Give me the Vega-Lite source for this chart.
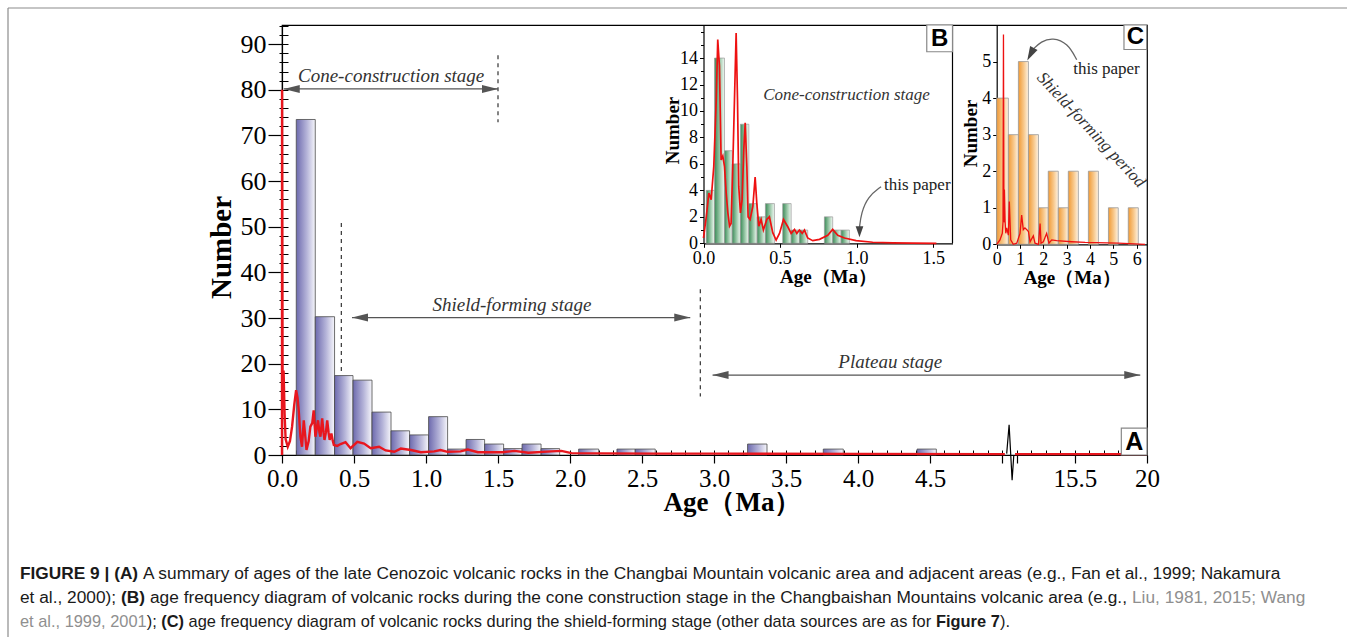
{
"$schema": "https://vega.github.io/schema/vega-lite/v6.json",
"width": 865,
"height": 430,
"autosize": {"type": "none"},
"padding": {"left": 282, "top": 25, "right": 208, "bottom": 182},
"background": "#ffffff",
"config": {
  "view": {"stroke": "#000000", "strokeWidth": 1.2},
  "axis": {"labelFont": "Liberation Serif", "titleFont": "Liberation Serif", "labelColor": "#000000", "titleColor": "#000000", "domainColor": "#000000", "tickColor": "#000000", "grid": false, "labelOverlap": false, "labelFlush": false}
},
"datasets": {
  "main_bars": [
    {"lo": 0.099, "hi": 0.231, "n": 73.5}, {"lo": 0.231, "hi": 0.365, "n": 30.3}, {"lo": 0.365, "hi": 0.493, "n": 17.4},
    {"lo": 0.493, "hi": 0.625, "n": 16.4}, {"lo": 0.625, "hi": 0.757, "n": 9.4}, {"lo": 0.757, "hi": 0.886, "n": 5.3},
    {"lo": 0.886, "hi": 1.018, "n": 4.4}, {"lo": 1.018, "hi": 1.15, "n": 8.4}, {"lo": 1.15, "hi": 1.278, "n": 1.3},
    {"lo": 1.278, "hi": 1.407, "n": 3.4}, {"lo": 1.407, "hi": 1.539, "n": 2.4}, {"lo": 1.539, "hi": 1.667, "n": 1.4},
    {"lo": 1.667, "hi": 1.799, "n": 2.4}, {"lo": 1.799, "hi": 1.928, "n": 1.4}, {"lo": 2.06, "hi": 2.199, "n": 1.3},
    {"lo": 2.326, "hi": 2.453, "n": 1.3}, {"lo": 2.453, "hi": 2.592, "n": 1.3}, {"lo": 3.233, "hi": 3.368, "n": 2.4},
    {"lo": 3.759, "hi": 3.898, "n": 1.3}, {"lo": 4.41, "hi": 4.544, "n": 1.3}
  ],
  "main_curve": [
    {"seg": "a", "age": 0, "n": 0}, {"seg": "a", "age": 0.0005, "n": 80}, {"seg": "a", "age": 0.004, "n": 12.5},
    {"seg": "a", "age": 0.011, "n": 18.5}, {"seg": "a", "age": 0.018, "n": 9}, {"seg": "a", "age": 0.025, "n": 3.5},
    {"seg": "a", "age": 0.04, "n": 1.8}, {"seg": "a", "age": 0.055, "n": 3}, {"seg": "a", "age": 0.07, "n": 6.2},
    {"seg": "a", "age": 0.085, "n": 11}, {"seg": "a", "age": 0.098, "n": 14.2}, {"seg": "a", "age": 0.108, "n": 12.5},
    {"seg": "a", "age": 0.116, "n": 9.8}, {"seg": "a", "age": 0.128, "n": 4}, {"seg": "a", "age": 0.139, "n": 1.8},
    {"seg": "a", "age": 0.151, "n": 7.6}, {"seg": "a", "age": 0.162, "n": 4}, {"seg": "a", "age": 0.17, "n": 1.1},
    {"seg": "a", "age": 0.185, "n": 3}, {"seg": "a", "age": 0.197, "n": 6.2}, {"seg": "a", "age": 0.21, "n": 7},
    {"seg": "a", "age": 0.22, "n": 9.8}, {"seg": "a", "age": 0.232, "n": 4}, {"seg": "a", "age": 0.25, "n": 7.6},
    {"seg": "a", "age": 0.26, "n": 5}, {"seg": "a", "age": 0.267, "n": 4}, {"seg": "a", "age": 0.279, "n": 8},
    {"seg": "a", "age": 0.288, "n": 5}, {"seg": "a", "age": 0.295, "n": 3.3}, {"seg": "a", "age": 0.305, "n": 5},
    {"seg": "a", "age": 0.314, "n": 7.6}, {"seg": "a", "age": 0.323, "n": 5}, {"seg": "a", "age": 0.331, "n": 3.3},
    {"seg": "a", "age": 0.343, "n": 4.7}, {"seg": "a", "age": 0.352, "n": 3.2}, {"seg": "a", "age": 0.36, "n": 2.2},
    {"seg": "a", "age": 0.384, "n": 2}, {"seg": "a", "age": 0.407, "n": 2.4}, {"seg": "a", "age": 0.441, "n": 2.8},
    {"seg": "a", "age": 0.476, "n": 1.5}, {"seg": "a", "age": 0.523, "n": 2.9}, {"seg": "a", "age": 0.57, "n": 2.5},
    {"seg": "a", "age": 0.616, "n": 1.5}, {"seg": "a", "age": 0.674, "n": 1.8}, {"seg": "a", "age": 0.72, "n": 1},
    {"seg": "a", "age": 0.78, "n": 0.7}, {"seg": "a", "age": 0.825, "n": 1.4}, {"seg": "a", "age": 0.895, "n": 1.1},
    {"seg": "a", "age": 0.964, "n": 0.6}, {"seg": "a", "age": 1.057, "n": 0.8}, {"seg": "a", "age": 1.1, "n": 1.1},
    {"seg": "a", "age": 1.15, "n": 0.7}, {"seg": "a", "age": 1.24, "n": 0.8}, {"seg": "a", "age": 1.29, "n": 1.2},
    {"seg": "a", "age": 1.36, "n": 0.6}, {"seg": "a", "age": 1.53, "n": 0.6}, {"seg": "a", "age": 1.615, "n": 0.9},
    {"seg": "a", "age": 1.71, "n": 0.5}, {"seg": "a", "age": 1.87, "n": 0.8}, {"seg": "a", "age": 1.94, "n": 0.9},
    {"seg": "a", "age": 2.01, "n": 0.4}, {"seg": "a", "age": 2.22, "n": 0.35}, {"seg": "a", "age": 2.63, "n": 0.3},
    {"seg": "a", "age": 3.0, "n": 0.3}, {"seg": "a", "age": 4.0, "n": 0.25}, {"seg": "a", "age": 5.0, "n": 0.2},
    {"seg": "a", "age": 6.3, "n": 0.2},
    {"seg": "b", "age": 11.0, "n": 0.2}, {"seg": "b", "age": 20, "n": 0.2}
  ],
  "main_dash": [
    {"age": 1.5, "n0": 87.6, "n1": 72.9}, {"age": 0.412, "n0": 50.8, "n1": 17.9}, {"age": 2.905, "n0": 36.3, "n1": 12.8}
  ],
  "main_arrows": [
    {"a0": 0.012, "a1": 1.5, "n": 80.2}, {"a0": 0.486, "a1": 2.835, "n": 30.1}, {"a0": 2.99, "a1": 19.58, "n": 17.5}
  ],
  "main_labels": [
    {"age": 0.758, "n": 81.8, "label": "Cone-construction stage"},
    {"age": 1.597, "n": 31.6, "label": "Shield-forming stage"},
    {"age": 4.224, "n": 19.0, "label": "Plateau stage"}
  ],
  "main_break": [
    {"age": 7.16, "n": 0.3}, {"age": 8.27, "n": 6.6}, {"age": 9.65, "n": -5.5}, {"age": 10.43, "n": 0}
  ],
  "main_tag": [{"x0": 18.4, "x1": 20, "y0": 0, "y1": 5.9, "xc": 19.2, "yc": 2.9, "tag": "A"}],
  "b_bars": [
    {"lo": 0.018, "hi": 0.072, "n": 4}, {"lo": 0.072, "hi": 0.137, "n": 14}, {"lo": 0.137, "hi": 0.187, "n": 7},
    {"lo": 0.187, "hi": 0.241, "n": 6}, {"lo": 0.241, "hi": 0.296, "n": 9}, {"lo": 0.296, "hi": 0.35, "n": 3},
    {"lo": 0.35, "hi": 0.404, "n": 2}, {"lo": 0.404, "hi": 0.463, "n": 3}, {"lo": 0.517, "hi": 0.572, "n": 3},
    {"lo": 0.572, "hi": 0.626, "n": 1}, {"lo": 0.626, "hi": 0.68, "n": 1}, {"lo": 0.789, "hi": 0.843, "n": 2},
    {"lo": 0.843, "hi": 0.898, "n": 1}, {"lo": 0.898, "hi": 0.952, "n": 1}
  ],
  "b_curve": [
    {"age": 0, "n": 0.4}, {"age": 0.018, "n": 2.0}, {"age": 0.035, "n": 3.8}, {"age": 0.05, "n": 3.3}, {"age": 0.067, "n": 5.8},
    {"age": 0.083, "n": 10.8}, {"age": 0.093, "n": 15.4}, {"age": 0.104, "n": 13.4}, {"age": 0.115, "n": 6.3}, {"age": 0.126, "n": 6.6},
    {"age": 0.137, "n": 5.8}, {"age": 0.148, "n": 3.8}, {"age": 0.159, "n": 2.3}, {"age": 0.17, "n": 1.3}, {"age": 0.18, "n": 1.5},
    {"age": 0.191, "n": 5.8}, {"age": 0.202, "n": 10.8}, {"age": 0.213, "n": 15.9}, {"age": 0.222, "n": 10.8}, {"age": 0.23, "n": 4.3},
    {"age": 0.241, "n": 2.3}, {"age": 0.252, "n": 3.3}, {"age": 0.263, "n": 7.1}, {"age": 0.272, "n": 9.1}, {"age": 0.283, "n": 5.8},
    {"age": 0.291, "n": 2.0}, {"age": 0.304, "n": 1.8}, {"age": 0.322, "n": 2.8}, {"age": 0.337, "n": 5.0}, {"age": 0.348, "n": 3.0},
    {"age": 0.361, "n": 1.3}, {"age": 0.376, "n": 1.8}, {"age": 0.391, "n": 1.0}, {"age": 0.413, "n": 1.8}, {"age": 0.43, "n": 2.0},
    {"age": 0.452, "n": 0.8}, {"age": 0.474, "n": 0.25}, {"age": 0.496, "n": 0.75}, {"age": 0.522, "n": 1.8}, {"age": 0.55, "n": 1.25},
    {"age": 0.572, "n": 0.75}, {"age": 0.594, "n": 1.05}, {"age": 0.609, "n": 0.75}, {"age": 0.626, "n": 1.0}, {"age": 0.644, "n": 0.75},
    {"age": 0.659, "n": 1.0}, {"age": 0.68, "n": 0.4}, {"age": 0.713, "n": 0.2}, {"age": 0.757, "n": 0.3}, {"age": 0.811, "n": 0.6},
    {"age": 0.843, "n": 1.05}, {"age": 0.876, "n": 0.6}, {"age": 0.92, "n": 0.4}, {"age": 0.996, "n": 0.2}, {"age": 1.104, "n": 0.08},
    {"age": 1.235, "n": 0.03}, {"age": 1.365, "n": 0.01}, {"age": 1.52, "n": 0}
  ],
  "b_frame": [{"age": 1.625, "n0": 0, "n1": 16.5}],
  "b_labels": [{"age": 0.933, "n": 10.84, "label": "Cone-construction stage"}],
  "b_note": [{"age": 1.178, "n": 4.03, "label": "this paper"}],
  "b_arrow": [{"age": 1.159, "n": 4.28}, {"age": 1.072, "n": 3.52}, {"age": 1.029, "n": 2.27}, {"age": 1.018, "n": 1.2}],
  "b_head": [{"age": 1.018, "n": 0.45}],
  "b_tag": [{"x0": 1.457, "x1": 1.625, "y0": 14.48, "y1": 16.5, "xc": 1.541, "yc": 15.45, "tag": "B"}],
  "c_bars": [
    {"lo": 0, "hi": 0.5, "n": 4}, {"lo": 0.5, "hi": 0.93, "n": 3}, {"lo": 0.93, "hi": 1.36, "n": 5}, {"lo": 1.36, "hi": 1.79, "n": 3},
    {"lo": 1.79, "hi": 2.21, "n": 1}, {"lo": 2.21, "hi": 2.64, "n": 2}, {"lo": 2.64, "hi": 3.07, "n": 1}, {"lo": 3.07, "hi": 3.5, "n": 2},
    {"lo": 3.93, "hi": 4.36, "n": 2}, {"lo": 4.79, "hi": 5.21, "n": 1}, {"lo": 5.64, "hi": 6.07, "n": 1}
  ],
  "c_curve": [
    {"age": 0, "n": 0}, {"age": 0.14, "n": 0.12}, {"age": 0.24, "n": 0.3}, {"age": 0.27, "n": 0.6}, {"age": 0.29, "n": 5.74},
    {"age": 0.31, "n": 0.6}, {"age": 0.33, "n": 1.5}, {"age": 0.36, "n": 0.62}, {"age": 0.39, "n": 0.3}, {"age": 0.43, "n": 0.45},
    {"age": 0.5, "n": 0.25}, {"age": 0.54, "n": 1.17}, {"age": 0.6, "n": 0.12}, {"age": 0.71, "n": 0.0}, {"age": 0.86, "n": 0.03},
    {"age": 1.0, "n": 0.3}, {"age": 1.07, "n": 0.8}, {"age": 1.14, "n": 0.4}, {"age": 1.21, "n": 0.45}, {"age": 1.29, "n": 0.4},
    {"age": 1.36, "n": 0.35}, {"age": 1.43, "n": 0.07}, {"age": 1.57, "n": 0.23}, {"age": 1.64, "n": 0.03}, {"age": 1.79, "n": 0.0},
    {"age": 1.86, "n": 0.57}, {"age": 1.9, "n": 0.03}, {"age": 2.0, "n": 0.07}, {"age": 2.14, "n": 0.3}, {"age": 2.24, "n": 0.03},
    {"age": 2.36, "n": 0.12}, {"age": 2.57, "n": 0.1}, {"age": 3.21, "n": 0.07}, {"age": 3.79, "n": 0.05}, {"age": 5.21, "n": 0.03},
    {"age": 6.36, "n": 0}
  ],
  "c_labels": [{"age": 4.05, "n": 3.13, "label": "Shield-forming period"}],
  "c_note": [{"age": 3.28, "n": 4.66, "label": "this paper"}],
  "c_arrow": [{"age": 3.43, "n": 5.05}, {"age": 3.05, "n": 5.5}, {"age": 2.4, "n": 5.66}, {"age": 1.9, "n": 5.55}, {"age": 1.55, "n": 5.33}],
  "c_head": [{"age": 1.31, "n": 5.03}],
  "c_tag": [{"x0": 5.456, "x1": 6.43, "y0": 5.33, "y1": 6.0, "xc": 5.943, "yc": 5.665, "tag": "C"}]
},
"resolve": {"scale": {"x": "independent", "y": "independent"}},
"layer": [
  {
    "resolve": {"axis": {"x": "independent", "y": "independent"}},
    "layer": [
      {
        "data": {"name": "main_bars"},
        "mark": {"type": "bar", "fill": {"gradient": "linear", "x1": 0, "y1": 0, "x2": 1, "y2": 0, "stops": [{"offset": 0, "color": "#6d6aae"}, {"offset": 0.55, "color": "#b4b3d8"}, {"offset": 1, "color": "#f6f6fb"}]}, "stroke": "#4a4a4a", "strokeWidth": 0.8},
        "encoding": {
          "x": {"field": "lo", "type": "quantitative", "scale": {"type": "linear", "domain": [0, 5, 11.9, 20], "range": [0, 720, 735, 865], "nice": false, "zero": false},
            "axis": {"orient": "bottom", "values": [0, 0.5, 1, 1.5, 2, 2.5, 3, 3.5, 4, 4.5, 5, 11.9, 15.5, 20], "labelExpr": "datum.value == 5 || datum.value == 11.9 ? '' : (datum.value == 20 ? '20' : format(datum.value, '.1f'))", "labelFontSize": 25, "labelPadding": 3, "tickSize": 8, "tickWidth": 1.2, "domainWidth": 1.2, "title": "Age（Ma）", "titleFontSize": 27, "titleFontWeight": "bold", "titleBaseline": "alphabetic", "titleY": 55, "titleX": 450}},
          "x2": {"field": "hi"},
          "y": {"field": "n", "type": "quantitative", "scale": {"domain": [0, 94.2], "nice": false},
            "axis": {"orient": "left", "values": [0, 10, 20, 30, 40, 50, 60, 70, 80, 90], "labelFontSize": 26, "labelPadding": 2, "tickSize": 14, "tickWidth": 1.2, "domainWidth": 1.2, "title": "Number", "titleFontSize": 29, "titleFontWeight": "bold", "titleAngle": 270, "titleBaseline": "alphabetic", "titleAlign": "center", "titleX": -52, "titleY": 222}},
          "y2": {"datum": 0}
        }
      },
      {
        "data": {"name": "main_curve"},
        "mark": {"type": "line", "color": "#e8161e", "strokeWidth": 2.4},
        "encoding": {
          "x": {"field": "age", "type": "quantitative", "scale": {"type": "linear", "domain": [0, 5, 11.9, 20], "range": [0, 720, 735, 865], "nice": false, "zero": false},
            "axis": {"orient": "bottom", "values": [0, 0.1, 0.2, 0.3, 0.4, 0.5, 0.6, 0.7, 0.8, 0.9, 1, 1.1, 1.2, 1.3, 1.4, 1.5, 1.6, 1.7, 1.8, 1.9, 2, 2.1, 2.2, 2.3, 2.4, 2.5, 2.6, 2.7, 2.8, 2.9, 3, 3.1, 3.2, 3.3, 3.4, 3.5, 3.6, 3.7, 3.8, 3.9, 4, 4.1, 4.2, 4.3, 4.4, 4.5, 4.6, 4.7, 4.8, 4.9, 5, 11.9, 12.8, 13.7, 14.6, 15.5, 16.4, 17.3, 18.2, 19.1, 20], "labels": false, "domain": false, "tickSize": 5, "offset": -5, "tickWidth": 1, "title": null}},
          "y": {"field": "n", "type": "quantitative", "scale": {"domain": [0, 94.2], "nice": false},
            "axis": {"orient": "left", "values": [0, 2, 4, 6, 8, 10, 12, 14, 16, 18, 20, 22, 24, 26, 28, 30, 32, 34, 36, 38, 40, 42, 44, 46, 48, 50, 52, 54, 56, 58, 60, 62, 64, 66, 68, 70, 72, 74, 76, 78, 80, 82, 84, 86, 88, 90, 92, 94], "labels": false, "domain": false, "tickSize": 9, "offset": -6, "tickWidth": 1, "title": null}},
          "detail": {"field": "seg"}
        }
      },
      {
        "data": {"name": "main_dash"},
        "mark": {"type": "rule", "color": "#333333", "strokeWidth": 1.2, "strokeDash": [4, 4]},
        "encoding": {
          "x": {"field": "age", "type": "quantitative", "axis": null},
          "y": {"field": "n0", "type": "quantitative", "axis": null},
          "y2": {"field": "n1"}
        }
      },
      {
        "data": {"name": "main_arrows"},
        "mark": {"type": "rule", "color": "#555555", "strokeWidth": 1.3},
        "encoding": {
          "x": {"field": "a0", "type": "quantitative", "axis": null},
          "x2": {"field": "a1"},
          "y": {"field": "n", "type": "quantitative", "axis": null}
        }
      },
      {
        "data": {"name": "main_arrows"},
        "mark": {"type": "point", "shape": "M0,0L2,-0.5L2,0.5Z", "size": 256, "filled": true, "color": "#555555", "opacity": 1, "strokeWidth": 0},
        "encoding": {
          "x": {"field": "a0", "type": "quantitative", "axis": null},
          "y": {"field": "n", "type": "quantitative", "axis": null}
        }
      },
      {
        "data": {"name": "main_arrows"},
        "mark": {"type": "point", "shape": "M0,0L-2,-0.5L-2,0.5Z", "size": 256, "filled": true, "color": "#555555", "opacity": 1, "strokeWidth": 0},
        "encoding": {
          "x": {"field": "a1", "type": "quantitative", "axis": null},
          "y": {"field": "n", "type": "quantitative", "axis": null}
        }
      },
      {
        "data": {"name": "main_labels"},
        "mark": {"type": "text", "font": "Liberation Serif", "fontStyle": "italic", "fontSize": 19, "color": "#333333", "align": "center", "baseline": "alphabetic"},
        "encoding": {
          "x": {"field": "age", "type": "quantitative", "axis": null},
          "y": {"field": "n", "type": "quantitative", "axis": null},
          "text": {"field": "label"}
        }
      },
      {
        "data": {"name": "main_break"},
        "mark": {"type": "line", "color": "#000000", "strokeWidth": 1.2},
        "encoding": {
          "x": {"field": "age", "type": "quantitative", "axis": null},
          "y": {"field": "n", "type": "quantitative", "axis": null}
        }
      },
      {
        "data": {"name": "main_tag"},
        "mark": {"type": "rect", "fill": "#ffffff", "stroke": "#888888", "strokeWidth": 1.2},
        "encoding": {
          "x": {"field": "x0", "type": "quantitative", "axis": null},
          "x2": {"field": "x1"},
          "y": {"field": "y0", "type": "quantitative", "axis": null},
          "y2": {"field": "y1"}
        }
      },
      {
        "data": {"name": "main_tag"},
        "mark": {"type": "text", "font": "Liberation Sans", "fontWeight": "bold", "fontSize": 25, "color": "#000000", "align": "center", "baseline": "middle"},
        "encoding": {
          "x": {"field": "xc", "type": "quantitative", "axis": null},
          "y": {"field": "yc", "type": "quantitative", "axis": null},
          "text": {"field": "tag"}
        }
      }
    ]
  },
  {
    "resolve": {"axis": {"x": "independent", "y": "independent"}},
    "layer": [
      {
        "data": {"name": "b_bars"},
        "mark": {"type": "bar", "fill": {"gradient": "linear", "x1": 0, "y1": 0, "x2": 1, "y2": 0, "stops": [{"offset": 0, "color": "#3b8b58"}, {"offset": 0.55, "color": "#9fcbac"}, {"offset": 1, "color": "#f3f9f4"}]}, "stroke": "#999999", "strokeWidth": 0.7},
        "encoding": {
          "x": {"field": "lo", "type": "quantitative", "scale": {"domain": [0, 1.625], "range": [421.5, 670.5], "nice": false, "zero": false},
            "axis": {"orient": "bottom", "offset": -211.7, "values": [0, 0.5, 1, 1.5], "format": ".1f", "labelFontSize": 18, "labelPadding": 2, "tickSize": 4, "domainWidth": 1.2, "title": "Age（Ma）", "titleFontSize": 19, "titleFontWeight": "bold", "titleBaseline": "alphabetic", "titleY": 39}},
          "x2": {"field": "hi"},
          "y": {"field": "n", "type": "quantitative", "scale": {"domain": [0, 16.5], "range": [218.3, 0], "nice": false},
            "axis": {"orient": "left", "offset": -421.5, "values": [0, 2, 4, 6, 8, 10, 12, 14], "labelFontSize": 18, "labelPadding": 2, "tickSize": 4, "domainWidth": 1.2, "title": "Number", "titleFontSize": 19, "titleFontWeight": "bold", "titleAngle": 270, "titleBaseline": "alphabetic", "titleAlign": "center", "titleX": -25, "titleY": 105}},
          "y2": {"datum": 0}
        }
      },
      {
        "data": {"name": "b_curve"},
        "mark": {"type": "line", "color": "#ee1111", "strokeWidth": 1.7},
        "encoding": {
          "x": {"field": "age", "type": "quantitative", "axis": null},
          "y": {"field": "n", "type": "quantitative",
            "axis": {"orient": "left", "offset": -421.5, "values": [1, 3, 5, 7, 9, 11, 13, 15, 16], "labels": false, "domain": false, "tickSize": 3, "title": null}}
        }
      },
      {
        "data": {"name": "b_frame"},
        "mark": {"type": "rule", "color": "#000000", "strokeWidth": 1.2},
        "encoding": {
          "x": {"field": "age", "type": "quantitative", "axis": null},
          "y": {"field": "n0", "type": "quantitative", "axis": null},
          "y2": {"field": "n1"}
        }
      },
      {
        "data": {"name": "b_labels"},
        "mark": {"type": "text", "font": "Liberation Serif", "fontStyle": "italic", "fontSize": 17, "color": "#333333", "align": "center", "baseline": "alphabetic"},
        "encoding": {
          "x": {"field": "age", "type": "quantitative", "axis": null},
          "y": {"field": "n", "type": "quantitative", "axis": null},
          "text": {"field": "label"}
        }
      },
      {
        "data": {"name": "b_note"},
        "mark": {"type": "text", "font": "Liberation Serif", "fontSize": 17, "color": "#222222", "align": "left", "baseline": "alphabetic"},
        "encoding": {
          "x": {"field": "age", "type": "quantitative", "axis": null},
          "y": {"field": "n", "type": "quantitative", "axis": null},
          "text": {"field": "label"}
        }
      },
      {
        "data": {"name": "b_arrow"},
        "mark": {"type": "line", "color": "#666666", "strokeWidth": 1.3, "interpolate": "basis"},
        "encoding": {
          "x": {"field": "age", "type": "quantitative", "axis": null},
          "y": {"field": "n", "type": "quantitative", "axis": null}
        }
      },
      {
        "data": {"name": "b_head"},
        "mark": {"type": "point", "shape": "M0,0L-0.7,-2L0.7,-2Z", "size": 121, "filled": true, "color": "#444444", "opacity": 1, "strokeWidth": 0},
        "encoding": {
          "x": {"field": "age", "type": "quantitative", "axis": null},
          "y": {"field": "n", "type": "quantitative", "axis": null}
        }
      },
      {
        "data": {"name": "b_tag"},
        "mark": {"type": "rect", "fill": "#ffffff", "stroke": "#888888", "strokeWidth": 1.2},
        "encoding": {
          "x": {"field": "x0", "type": "quantitative", "axis": null},
          "x2": {"field": "x1"},
          "y": {"field": "y0", "type": "quantitative", "axis": null},
          "y2": {"field": "y1"}
        }
      },
      {
        "data": {"name": "b_tag"},
        "mark": {"type": "text", "font": "Liberation Sans", "fontWeight": "bold", "fontSize": 24, "color": "#000000", "align": "center", "baseline": "middle"},
        "encoding": {
          "x": {"field": "xc", "type": "quantitative", "axis": null},
          "y": {"field": "yc", "type": "quantitative", "axis": null},
          "text": {"field": "tag"}
        }
      }
    ]
  },
  {
    "resolve": {"axis": {"x": "independent", "y": "independent"}},
    "layer": [
      {
        "data": {"name": "c_bars"},
        "mark": {"type": "bar", "fill": {"gradient": "linear", "x1": 0, "y1": 0, "x2": 1, "y2": 0, "stops": [{"offset": 0, "color": "#f19a35"}, {"offset": 0.55, "color": "#f8c98d"}, {"offset": 1, "color": "#fef3e4"}]}, "stroke": "#999999", "strokeWidth": 0.8},
        "encoding": {
          "x": {"field": "lo", "type": "quantitative", "scale": {"domain": [0, 6.43], "range": [714.7, 864.7], "nice": false, "zero": false},
            "axis": {"orient": "bottom", "offset": -210.7, "values": [0, 1, 2, 3, 4, 5, 6], "format": "d", "labelFontSize": 18, "labelPadding": 2, "tickSize": 4, "domainWidth": 1.2, "title": "Age（Ma）", "titleFontSize": 19, "titleFontWeight": "bold", "titleBaseline": "alphabetic", "titleY": 39}},
          "x2": {"field": "hi"},
          "y": {"field": "n", "type": "quantitative", "scale": {"domain": [0, 6.0], "range": [219.3, 0], "nice": false},
            "axis": {"orient": "left", "offset": -714.7, "values": [0, 1, 2, 3, 4, 5], "format": "d", "labelFontSize": 18, "labelPadding": 2, "tickSize": 4, "domainWidth": 1.2, "title": "Number", "titleFontSize": 19, "titleFontWeight": "bold", "titleAngle": 270, "titleBaseline": "alphabetic", "titleAlign": "center", "titleX": -20, "titleY": 108}},
          "y2": {"datum": 0}
        }
      },
      {
        "data": {"name": "c_curve"},
        "mark": {"type": "line", "color": "#ee1111", "strokeWidth": 1.3},
        "encoding": {
          "x": {"field": "age", "type": "quantitative", "axis": null},
          "y": {"field": "n", "type": "quantitative", "axis": null}
        }
      },
      {
        "data": {"name": "c_labels"},
        "mark": {"type": "text", "font": "Liberation Serif", "fontStyle": "italic", "fontSize": 17, "color": "#333333", "align": "center", "baseline": "middle", "angle": 47},
        "encoding": {
          "x": {"field": "age", "type": "quantitative", "axis": null},
          "y": {"field": "n", "type": "quantitative", "axis": null},
          "text": {"field": "label"}
        }
      },
      {
        "data": {"name": "c_note"},
        "mark": {"type": "text", "font": "Liberation Serif", "fontSize": 17, "color": "#222222", "align": "left", "baseline": "alphabetic"},
        "encoding": {
          "x": {"field": "age", "type": "quantitative", "axis": null},
          "y": {"field": "n", "type": "quantitative", "axis": null},
          "text": {"field": "label"}
        }
      },
      {
        "data": {"name": "c_arrow"},
        "mark": {"type": "line", "color": "#666666", "strokeWidth": 1.3, "interpolate": "basis"},
        "encoding": {
          "x": {"field": "age", "type": "quantitative", "axis": null},
          "y": {"field": "n", "type": "quantitative", "axis": null}
        }
      },
      {
        "data": {"name": "c_head"},
        "mark": {"type": "point", "shape": "M0,0L-0.6,-2L0.6,-2Z", "size": 196, "angle": 28, "filled": true, "color": "#444444", "opacity": 1, "strokeWidth": 0},
        "encoding": {
          "x": {"field": "age", "type": "quantitative", "axis": null},
          "y": {"field": "n", "type": "quantitative", "axis": null}
        }
      },
      {
        "data": {"name": "c_tag"},
        "mark": {"type": "rect", "fill": "#ffffff", "stroke": "#888888", "strokeWidth": 1.2},
        "encoding": {
          "x": {"field": "x0", "type": "quantitative", "axis": null},
          "x2": {"field": "x1"},
          "y": {"field": "y0", "type": "quantitative", "axis": null},
          "y2": {"field": "y1"}
        }
      },
      {
        "data": {"name": "c_tag"},
        "mark": {"type": "text", "font": "Liberation Sans", "fontWeight": "bold", "fontSize": 24, "color": "#000000", "align": "center", "baseline": "middle"},
        "encoding": {
          "x": {"field": "xc", "type": "quantitative", "axis": null},
          "y": {"field": "yc", "type": "quantitative", "axis": null},
          "text": {"field": "tag"}
        }
      }
    ]
  },
  {
    "data": {"values": [{}]},
    "layer": [
      {
        "mark": {"type": "rule", "color": "#8c8c8c", "strokeWidth": 1.2},
        "encoding": {
          "x": {"datum": 8, "type": "quantitative", "scale": {"domain": [0, 1355], "range": [-282, 1073], "nice": false, "zero": false}, "axis": null},
          "x2": {"datum": 1347},
          "y": {"datum": 8, "type": "quantitative", "scale": {"domain": [0, 637], "range": [-25, 612], "nice": false, "zero": false}, "axis": null}
        }
      },
      {
        "mark": {"type": "rule", "color": "#8c8c8c", "strokeWidth": 1.2},
        "encoding": {
          "x": {"datum": 8, "type": "quantitative", "axis": null},
          "y": {"datum": 8, "type": "quantitative", "axis": null},
          "y2": {"datum": 637}
        }
      },
      {
        "mark": {"type": "text", "text": "FIGURE 9 | (A)", "font": "Liberation Sans", "fontWeight": "bold", "fontSize": 17.3, "color": "#1a1a1a", "align": "left", "baseline": "alphabetic"},
        "encoding": {"x": {"datum": 20, "type": "quantitative", "axis": null}, "y": {"datum": 579, "type": "quantitative", "axis": null}}
      },
      {
        "mark": {"type": "text", "text": "A summary of ages of the late Cenozoic volcanic rocks in the Changbai Mountain volcanic area and adjacent areas (e.g., Fan et al., 1999; Nakamura", "font": "Liberation Sans", "fontSize": 17.3, "color": "#1a1a1a", "align": "left", "baseline": "alphabetic"},
        "encoding": {"x": {"datum": 143, "type": "quantitative", "axis": null}, "y": {"datum": 579, "type": "quantitative", "axis": null}}
      },
      {
        "mark": {"type": "text", "text": "et al., 2000);", "font": "Liberation Sans", "fontSize": 17.3, "color": "#1a1a1a", "align": "left", "baseline": "alphabetic"},
        "encoding": {"x": {"datum": 20, "type": "quantitative", "axis": null}, "y": {"datum": 603, "type": "quantitative", "axis": null}}
      },
      {
        "mark": {"type": "text", "text": "(B)", "font": "Liberation Sans", "fontWeight": "bold", "fontSize": 17.3, "color": "#1a1a1a", "align": "left", "baseline": "alphabetic"},
        "encoding": {"x": {"datum": 121, "type": "quantitative", "axis": null}, "y": {"datum": 603, "type": "quantitative", "axis": null}}
      },
      {
        "mark": {"type": "text", "text": "age frequency diagram of volcanic rocks during the cone construction stage in the Changbaishan Mountains volcanic area (e.g.,", "font": "Liberation Sans", "fontSize": 17.3, "color": "#1a1a1a", "align": "left", "baseline": "alphabetic"},
        "encoding": {"x": {"datum": 150, "type": "quantitative", "axis": null}, "y": {"datum": 603, "type": "quantitative", "axis": null}}
      },
      {
        "mark": {"type": "text", "text": "Liu, 1981, 2015; Wang", "font": "Liberation Sans", "fontSize": 17.3, "color": "#8f8f8f", "align": "left", "baseline": "alphabetic"},
        "encoding": {"x": {"datum": 1132, "type": "quantitative", "axis": null}, "y": {"datum": 603, "type": "quantitative", "axis": null}}
      },
      {
        "mark": {"type": "text", "text": "et al., 1999, 2001", "font": "Liberation Sans", "fontSize": 16.4, "color": "#8f8f8f", "align": "left", "baseline": "alphabetic"},
        "encoding": {"x": {"datum": 20, "type": "quantitative", "axis": null}, "y": {"datum": 627, "type": "quantitative", "axis": null}}
      },
      {
        "mark": {"type": "text", "text": ");", "font": "Liberation Sans", "fontSize": 16.4, "color": "#1a1a1a", "align": "left", "baseline": "alphabetic"},
        "encoding": {"x": {"datum": 146.7, "type": "quantitative", "axis": null}, "y": {"datum": 627, "type": "quantitative", "axis": null}}
      },
      {
        "mark": {"type": "text", "text": "(C)", "font": "Liberation Sans", "fontWeight": "bold", "fontSize": 16.4, "color": "#1a1a1a", "align": "left", "baseline": "alphabetic"},
        "encoding": {"x": {"datum": 161.3, "type": "quantitative", "axis": null}, "y": {"datum": 627, "type": "quantitative", "axis": null}}
      },
      {
        "mark": {"type": "text", "text": "age frequency diagram of volcanic rocks during the shield-forming stage (other data sources are as for", "font": "Liberation Sans", "fontSize": 16.4, "color": "#1a1a1a", "align": "left", "baseline": "alphabetic"},
        "encoding": {"x": {"datum": 188.6, "type": "quantitative", "axis": null}, "y": {"datum": 627, "type": "quantitative", "axis": null}}
      },
      {
        "mark": {"type": "text", "text": "Figure 7", "font": "Liberation Sans", "fontWeight": "bold", "fontSize": 16.4, "color": "#1a1a1a", "align": "left", "baseline": "alphabetic"},
        "encoding": {"x": {"datum": 936, "type": "quantitative", "axis": null}, "y": {"datum": 627, "type": "quantitative", "axis": null}}
      },
      {
        "mark": {"type": "text", "text": ").", "font": "Liberation Sans", "fontSize": 16.4, "color": "#1a1a1a", "align": "left", "baseline": "alphabetic"},
        "encoding": {"x": {"datum": 1000, "type": "quantitative", "axis": null}, "y": {"datum": 627, "type": "quantitative", "axis": null}}
      }
    ]
  }
]
}
